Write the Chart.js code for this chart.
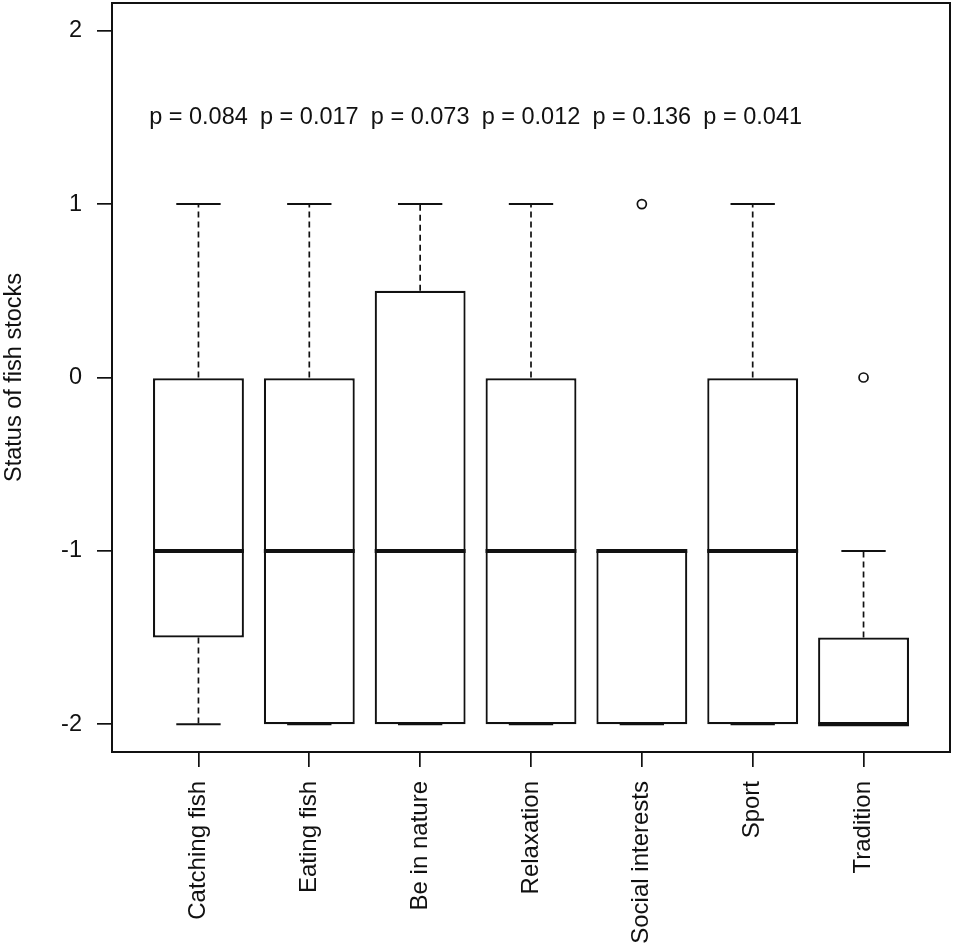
<!DOCTYPE html>
<html>
<head>
<meta charset="utf-8">
<script src="https://cdn.jsdelivr.net/npm/chart.js@4.4.1/dist/chart.umd.min.js"></script>
<style>
  html, body { margin: 0; padding: 0; background: #fff; }
  #wrap { width: 954px; height: 945px; }
</style>
</head>
<body>
<div id="wrap"><canvas id="boxChart"></canvas></div>
<script>
// categories and five-number summaries
const categories = ['Catching fish', 'Eating fish', 'Be in nature', 'Relaxation', 'Social interests', 'Sport', 'Tradition'];
const whiskerLow = [-2, -2, -2, -2, -2, -2, -2];
const q1 = [-1.5, -2, -2, -2, -2, -2, -2];
const medians = [-1, -1, -1, -1, -1, -1, -2];
const q3 = [0, 0, 0.5, 0, -1, 0, -1.5];
const whiskerHigh = [1, 1, 1, 1, -1, 1, -1];
const outliers = [{ x: 5, y: 1 }, { x: 7, y: 0 }];
const pValues = ['p = 0.084', 'p = 0.017', 'p = 0.073', 'p = 0.012', 'p = 0.136', 'p = 0.041'];
const pValueY = 1.5;
const yTicks = [-2, -1, 0, 1, 2];

const FONT = "'Liberation Sans', Arial, sans-serif";
const ink = '#111';

const boxData = categories.map((c, i) => ({ x: i + 1, y: [q1[i], q3[i]] }));

// whiskers, staples, medians and p-values, placed through the chart scales
const boxExtras = {
    id: 'boxExtras',
    afterDatasetsDraw(chart) {
        const ctx = chart.ctx;
        const xs = chart.scales.x, ys = chart.scales.y;
        const unit = xs.getPixelForValue(1) - xs.getPixelForValue(0);
        ctx.save();
        ctx.strokeStyle = ink;
        categories.forEach((c, i) => {
            const cx = xs.getPixelForValue(i + 1);
            // dashed whiskers
            ctx.lineWidth = 1.7;
            ctx.setLineDash([6, 4]);
            ctx.beginPath();
            if (whiskerHigh[i] > q3[i]) {
                ctx.moveTo(cx, ys.getPixelForValue(q3[i]));
                ctx.lineTo(cx, ys.getPixelForValue(whiskerHigh[i]));
            }
            if (whiskerLow[i] < q1[i]) {
                ctx.moveTo(cx, ys.getPixelForValue(q1[i]));
                ctx.lineTo(cx, ys.getPixelForValue(whiskerLow[i]));
            }
            ctx.stroke();
            ctx.setLineDash([]);
            // staples
            ctx.lineWidth = 2;
            ctx.beginPath();
            [whiskerHigh[i], whiskerLow[i]].forEach(v => {
                const py = ys.getPixelForValue(v);
                ctx.moveTo(cx - unit * 0.2, py);
                ctx.lineTo(cx + unit * 0.2, py);
            });
            ctx.stroke();
            // median
            ctx.lineWidth = 4;
            ctx.beginPath();
            const my = ys.getPixelForValue(medians[i]);
            ctx.moveTo(cx - unit * 0.41, my);
            ctx.lineTo(cx + unit * 0.41, my);
            ctx.stroke();
        });
        ctx.fillStyle = ink;
        ctx.font = '23.5px ' + FONT;
        ctx.textAlign = 'center';
        ctx.textBaseline = 'middle';
        pValues.forEach((p, i) => {
            ctx.fillText(p, xs.getPixelForValue(i + 1), ys.getPixelForValue(pValueY));
        });
        // box around the plot region
        const a = chart.chartArea;
        ctx.lineWidth = 2;
        ctx.strokeRect(a.left, a.top, a.right - a.left, a.bottom - a.top);
        ctx.restore();
    }
};

const ctx = document.getElementById('boxChart').getContext('2d');
const boxChart = new Chart(ctx, {
    type: 'bar',
    data: {
        datasets: [{
            type: 'bar',
            data: boxData,
            backgroundColor: '#fff',
            borderColor: ink,
            borderWidth: 2.2,
            borderSkipped: false,
            categoryPercentage: 1,
            barPercentage: 0.82
        }, {
            type: 'scatter',
            data: outliers,
            pointStyle: 'circle',
            pointRadius: 4.5,
            pointBorderWidth: 1.7,
            pointBackgroundColor: '#fff',
            pointBorderColor: ink
        }]
    },
    options: {
        responsive: true,
        maintainAspectRatio: false,
        animation: false,
        layout: { autoPadding: false, padding: { top: 3, right: 4, left: 0, bottom: 0 } },
        plugins: {
            legend: { display: false },
            tooltip: { enabled: false }
        },
        scales: {
            x: {
                type: 'linear',
                min: 0.22,
                max: 7.78,
                offset: false,
                afterBuildTicks: s => { s.ticks = categories.map((c, i) => ({ value: i + 1 })); },
                afterFit: s => { s.height = 193; s.paddingLeft = 0; s.paddingRight = 0; },
                grid: { drawOnChartArea: false, drawTicks: true, tickLength: 15, color: ink, lineWidth: 1.7, offset: false },
                border: { display: false },
                ticks: {
                    autoSkip: false,
                    minRotation: 90,
                    maxRotation: 90,
                    padding: 14,
                    color: ink,
                    font: { family: FONT, size: 24 },
                    callback: v => categories[v - 1]
                }
            },
            y: {
                min: -2.16,
                max: 2.16,
                afterBuildTicks: s => { s.ticks = yTicks.map(v => ({ value: v })); },
                afterFit: s => { s.width = 112; s.paddingTop = 0; s.paddingBottom = 0; },
                grid: { drawOnChartArea: false, drawTicks: true, tickLength: 15, color: ink, lineWidth: 1.7 },
                border: { display: false },
                ticks: {
                    padding: 15,
                    color: ink,
                    font: { family: FONT, size: 23.5 },
                    callback: v => String(v)
                },
                title: {
                    display: true,
                    text: 'Status of fish stocks',
                    color: ink,
                    padding: 0,
                    font: { family: FONT, size: 23.5 }
                }
            }
        }
    },
    plugins: [boxExtras]
});
</script>
</body>
</html>
